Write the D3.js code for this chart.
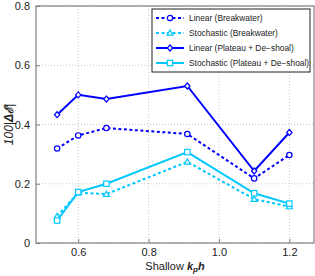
<!DOCTYPE html>
<html>
<head>
<meta charset="utf-8">
<script src="https://cdn.jsdelivr.net/npm/d3@7"></script>
<style>
  body { margin: 0; background: #fff; }
  svg { display: block; font-family: "Liberation Sans", Arial, sans-serif; }
</style>
</head>
<body>
<svg id="chart" width="315" height="276"></svg>
<script>
// shallow k_p h values
var kph = [0.54, 0.6, 0.68, 0.91, 1.1, 1.2];

// 100|dE| for each case
var linearBreakwater = [0.319, 0.363, 0.388, 0.368, 0.218, 0.297];
var stochBreakwater = [0.090, 0.170, 0.165, 0.274, 0.148, 0.123];
var linearPlateau = [0.433, 0.500, 0.486, 0.530, 0.243, 0.373];
var stochPlateau = [0.076, 0.172, 0.200, 0.307, 0.168, 0.133];

var seriesNames = ["Linear (Breakwater)", "Stochastic (Breakwater)",
  "Linear (Plateau + De\u2212shoal)", "Stochastic (Plateau + De\u2212shoal)"];

var xTicks = [0.6, 0.8, 1.0, 1.2];
var yTicks = [0, 0.2, 0.4, 0.6, 0.8];

var svg = d3.select("#chart");
var margin = {top: 6, right: 1, bottom: 33, left: 36};
var w = 315 - margin.left - margin.right;
var h = 276 - margin.top - margin.bottom;

var xScale = d3.scaleLinear().domain([0.48, 1.27]).range([0, w]);
var yScale = d3.scaleLinear().domain([0, 0.8]).range([h, 0]);

var g = svg.append("g")
  .attr("transform", "translate(" + margin.left + "," + margin.top + ")");

// grid
g.selectAll(".gx").data(xTicks).enter().append("line")
  .attr("x1", d => xScale(d)).attr("x2", d => xScale(d))
  .attr("y1", 0).attr("y2", h)
  .style("stroke", "#c8c8c8").style("stroke-dasharray", "1,2");
g.selectAll(".gy").data(yTicks).enter().append("line")
  .attr("x1", 0).attr("x2", w)
  .attr("y1", d => yScale(d)).attr("y2", d => yScale(d))
  .style("stroke", "#c8c8c8").style("stroke-dasharray", "1,2");

// axes
var xAxis = d3.axisBottom(xScale).tickValues(xTicks).tickSizeInner(-4).tickSizeOuter(0)
  .tickPadding(5).tickFormat(d3.format(".1f"));
var yAxis = d3.axisLeft(yScale).tickValues(yTicks).tickSizeInner(-4).tickSizeOuter(0)
  .tickPadding(6).tickFormat(d => d === 0 ? "0" : d3.format(".1f")(d));

var ax = g.append("g").attr("transform", "translate(0," + h + ")").call(xAxis);
var ay = g.append("g").call(yAxis);
[ax, ay].forEach(function(a) {
  a.select(".domain").remove();
  a.selectAll("line").style("stroke", "#808080");
  a.selectAll("text").style("font-size", "11px").style("fill", "#222")
    .style("font-family", "Liberation Sans, Arial, sans-serif");
});

// box
g.append("rect").attr("width", w).attr("height", h)
  .style("fill", "none").style("stroke", "#808080").style("stroke-width", 1.2);

var series = [
  {name: seriesNames[0], values: linearBreakwater, color: "#0000ff", dash: "3,2.5", marker: "circle"},
  {name: seriesNames[1], values: stochBreakwater, color: "#00c8ff", dash: "3,2.5", marker: "triangle"},
  {name: seriesNames[2], values: linearPlateau, color: "#0000ff", dash: null, marker: "diamond"},
  {name: seriesNames[3], values: stochPlateau, color: "#00c8ff", dash: null, marker: "square"}
];

var line = d3.line().x(d => xScale(d[0])).y(d => yScale(d[1]));

function drawMarker(sel, type, x, y, color) {
  var p;
  if (type === "circle") {
    p = sel.append("circle").attr("cx", x).attr("cy", y).attr("r", 2.7);
  } else if (type === "square") {
    p = sel.append("rect").attr("x", x - 2.7).attr("y", y - 2.7).attr("width", 5.4).attr("height", 5.4);
  } else if (type === "triangle") {
    p = sel.append("path").attr("d", "M" + x + "," + (y - 3) + "L" + (x + 3) + "," + (y + 2.2) + "L" + (x - 3) + "," + (y + 2.2) + "Z");
  } else {
    p = sel.append("path").attr("d", "M" + x + "," + (y - 3) + "L" + (x + 2.7) + "," + y + "L" + x + "," + (y + 3) + "L" + (x - 2.7) + "," + y + "Z");
  }
  p.style("fill", "#fff").style("stroke", color).style("stroke-width", 1.2);
}

var plot = g.append("g");
series.forEach(function(s) {
  var pts = kph.map((k, i) => [k, s.values[i]]);
  plot.append("path").datum(pts)
    .attr("d", line)
    .style("fill", "none").style("stroke", s.color).style("stroke-width", 2)
    .style("stroke-dasharray", s.dash);
  pts.forEach(function(p) {
    drawMarker(plot, s.marker, xScale(p[0]), yScale(p[1]), s.color);
  });
});

// legend
var lg = svg.append("g").attr("transform", "translate(152,9)");
lg.append("rect").attr("width", 158).attr("height", 63)
  .style("fill", "#fff").style("stroke", "#222").style("stroke-width", 1);
series.forEach(function(s, i) {
  var y = 9 + i * 15;
  lg.append("line").attr("x1", 4).attr("x2", 32).attr("y1", y).attr("y2", y)
    .style("stroke", s.color).style("stroke-width", 2).style("stroke-dasharray", s.dash);
  drawMarker(lg, s.marker, 18, y, s.color);
  lg.append("text").attr("x", 37).attr("y", y + 3).text(s.name)
    .style("font-size", "8.4px").style("fill", "#222");
});

// axis labels
svg.append("text")
  .attr("transform", "translate(13," + (margin.top + h / 2) + ") rotate(-90)")
  .attr("text-anchor", "middle")
  .style("font-size", "12px").style("font-style", "italic").style("fill", "#222")
  .html('100|<tspan font-weight="bold">\u0394\u2130</tspan>|');

svg.append("text")
  .attr("x", margin.left + w / 2).attr("y", 270)
  .attr("text-anchor", "middle")
  .style("font-size", "11px").style("fill", "#222")
  .html('Shallow <tspan font-weight="bold" font-style="italic">k</tspan><tspan font-weight="bold" font-style="italic" font-size="8px" dy="2">p</tspan><tspan font-weight="bold" font-style="italic" dy="-2">h</tspan>');
</script>
</body>
</html>
